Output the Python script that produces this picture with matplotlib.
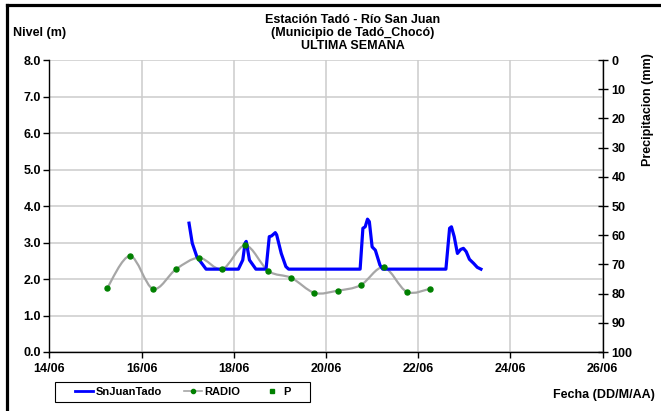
import matplotlib
matplotlib.use("Agg")
import matplotlib.pyplot as plt
from matplotlib.path import Path
from matplotlib.patches import PathPatch, Rectangle
from matplotlib.lines import Line2D

plt.rcParams['font.family'] = ['Liberation Sans', 'DejaVu Sans']
plt.rcParams['font.weight'] = 'bold'

# ---- data (day of June) ----
nivel_day = [17.03, 17.10, 17.20, 17.40, 18.10, 18.195, 18.245, 18.27, 18.34, 18.48,
             18.70, 18.77, 18.82, 18.90, 18.93, 19.03, 19.13, 19.19, 20.74, 20.80,
             20.85, 20.90, 20.94, 21.00, 21.07, 21.17, 21.23, 22.60, 22.68, 22.72,
             22.78, 22.85, 22.92, 22.98, 23.04, 23.11, 23.20, 23.28, 23.36]
nivel_val = [3.53, 2.98, 2.61, 2.27, 2.27, 2.52, 2.98, 3.03, 2.52, 2.27,
             2.27, 3.16, 3.18, 3.27, 3.21, 2.70, 2.34, 2.27, 2.27, 3.39,
             3.43, 3.64, 3.57, 2.88, 2.79, 2.38, 2.27, 2.27, 3.39, 3.43,
             3.16, 2.70, 2.81, 2.84, 2.75, 2.54, 2.43, 2.32, 2.27]

radio_day = [15.25, 15.75, 16.25, 16.75, 17.25, 17.75, 18.25, 18.75,
             19.25, 19.75, 20.25, 20.75, 21.25, 21.75, 22.25]
radio_val = [1.74, 2.63, 1.73, 2.27, 2.58, 2.27, 2.92, 2.22,
             2.03, 1.62, 1.68, 1.83, 2.32, 1.65, 1.73]

p_day = []
p_val = []

x_ticks = [14, 16, 18, 20, 22, 24, 26]
x_labels = ["14/06", "16/06", "18/06", "20/06", "22/06", "24/06", "26/06"]
y_ticks = [0, 1, 2, 3, 4, 5, 6, 7, 8]
y2_ticks = [0, 10, 20, 30, 40, 50, 60, 70, 80, 90, 100]

BLUE = "#0000ff"
GRAY = "#a6a6a6"
GREEN = "#008000"
GRID = "#cccccc"

fig = plt.figure(figsize=(6.61, 4.11), dpi=100)
ax = fig.add_axes([49.3 / 661, 1 - 352 / 411, (602.7 - 49.3) / 661, (352 - 60) / 411])

ax.set_xlim(14, 26)
ax.set_ylim(0, 8)
ax.set_xticks(x_ticks)
ax.set_xticklabels(x_labels)
ax.set_yticks(y_ticks)
ax.set_yticklabels([f"{v:.1f}" for v in y_ticks])
ax.grid(True, color=GRID, linewidth=1.1)
ax.set_axisbelow(True)
for s in ['top', 'right']:
    ax.spines[s].set_visible(False)
for s in ['left', 'bottom']:
    ax.spines[s].set_linewidth(1.0)
ax.tick_params(axis='both', labelsize=9, length=4, width=1.0, pad=2)
ax.tick_params(axis='x', pad=4)

# smoothed RADIO line (Bezier, Excel-like smoothing)
pts = list(zip(radio_day, radio_val))
verts = [pts[0]]
codes = [Path.MOVETO]
n = len(pts)
for i in range(n - 1):
    p0 = pts[i - 1] if i > 0 else pts[i]
    p1 = pts[i]
    p2 = pts[i + 1]
    p3 = pts[i + 2] if i + 2 < n else pts[i + 1]
    c1 = (p1[0] + (p2[0] - p0[0]) / 6, p1[1] + (p2[1] - p0[1]) / 6)
    c2 = (p2[0] - (p3[0] - p1[0]) / 6, p2[1] - (p3[1] - p1[1]) / 6)
    verts += [c1, c2, p2]
    codes += [Path.CURVE4] * 3
ax.add_patch(PathPatch(Path(verts, codes), facecolor='none', edgecolor=GRAY,
                       linewidth=1.6, zorder=2))

ax.plot(nivel_day, nivel_val, color=BLUE, linewidth=2.3, zorder=3)
ax.plot(radio_day, radio_val, linestyle='none', marker='o', markersize=3.6,
        color=GREEN, zorder=4)

ax2 = ax.twinx()
ax2.set_ylim(100, 0)
ax2.set_yticks(y2_ticks)
for s in ['top', 'left', 'bottom']:
    ax2.spines[s].set_visible(False)
ax2.spines['right'].set_linewidth(1.0)
ax2.tick_params(axis='y', labelsize=9, direction='inout', length=7, width=1.0, pad=3)
ax2.plot(p_day, p_val, linestyle='none', marker='s', markersize=2, color=GREEN)

fig.text(353 / 661, 1 - 33 / 411,
         "Estación Tadó - Río San Juan\n(Municipio de Tadó_Chocó)\nULTIMA SEMANA",
         ha='center', va='center', fontsize=9, fontweight='bold', linespacing=1.15)
fig.text(13 / 661, 1 - 33 / 411, "Nivel (m)", ha='left', va='center',
         fontsize=9, fontweight='bold')
fig.text(655 / 661, 1 - 395 / 411, "Fecha (DD/M/AA)", ha='right', va='center',
         fontsize=9, fontweight='bold')
fig.text(648 / 661, 1 - 110 / 411, "Precipitacion (mm)", ha='center', va='center',
         rotation=90, fontsize=9, fontweight='bold')

# legend (frame drawn separately)
fig.add_artist(Rectangle((55 / 661, 1 - 402 / 411), (310 - 55) / 661, 20 / 411,
                         transform=fig.transFigure, facecolor='white',
                         edgecolor='black', linewidth=0.8, zorder=5))
handles = [
    Line2D([], [], color=BLUE, linewidth=2.0),
    Line2D([], [], color=GRAY, linewidth=1.2, marker='o', markersize=3,
           markerfacecolor=GREEN, markeredgecolor=GREEN),
    Line2D([], [], linestyle='none', marker='s', markersize=2.5, color=GREEN),
]
leg = fig.legend(handles, ["SnJuanTado", "RADIO", "P"], ncol=3,
                 loc='center left', bbox_to_anchor=(75 / 661, 1 - 392 / 411),
                 bbox_transform=fig.transFigure, frameon=False,
                 fontsize=8, handlelength=1.6, handletextpad=0.25,
                 columnspacing=2.0, borderpad=0, borderaxespad=0)
leg.set_zorder(6)
for t in leg.get_texts():
    t.set_fontweight('bold')

# outer frame (left and top edges)
fig.add_artist(Line2D([6.5 / 661, 6.5 / 661], [0, 1 - 5.5 / 411], color='black',
                      linewidth=2.3, transform=fig.transFigure))
fig.add_artist(Line2D([6.5 / 661, 1], [1 - 5.5 / 411, 1 - 5.5 / 411], color='black',
                      linewidth=2.3, transform=fig.transFigure))

fig.savefig("out.png", dpi=100)
